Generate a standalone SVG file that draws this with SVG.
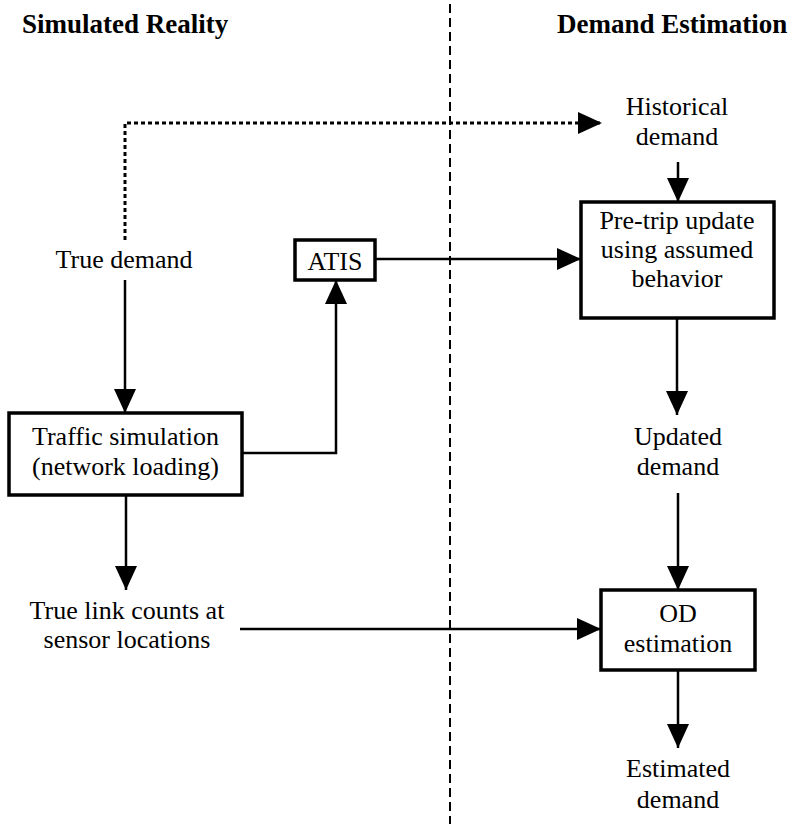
<svg xmlns="http://www.w3.org/2000/svg" width="794" height="824" viewBox="0 0 794 824">
<style>
text{font-family:'Liberation Serif',Tinos,'Times New Roman','Nimbus Roman','DejaVu Serif',serif;font-size:26px;fill:#000;text-anchor:middle}
.title{font-weight:bold;font-size:27px;text-anchor:start}
.box{fill:#fff;stroke:#000;stroke-width:3.5}
.c{fill:none;stroke:#000;stroke-width:2.5}
.dot{fill:none;stroke:#000;stroke-width:3;stroke-dasharray:4 3}
.div{fill:none;stroke:#000;stroke-width:2;stroke-dasharray:9 5}
</style>
<defs>
<marker id="ah" markerUnits="userSpaceOnUse" markerWidth="24" markerHeight="22" viewBox="0 0 24 22" refX="24" refY="11" orient="auto">
<path d="M0,0 L24,11 L0,22 z" fill="#000"/>
</marker>
</defs>
<rect width="794" height="824" fill="#fff"/>
<g font-family="Liberation Serif, serif">
<text class="title" x="22" y="33">Simulated Reality</text>
<text class="title" x="557" y="33">Demand Estimation</text>
</g>
<path class="div" d="M450,4 V824"/>
<g id="connectors">
<path class="dot" d="M125,240 V123 H602" marker-end="url(#ah)"/>
<path class="c" d="M125,280 V413" marker-end="url(#ah)"/>
<path class="c" d="M242,453 H336 V280" marker-end="url(#ah)"/>
<path class="c" d="M375,259 H581" marker-end="url(#ah)"/>
<path class="c" d="M678,162 V202" marker-end="url(#ah)"/>
<path class="c" d="M677,318 V415" marker-end="url(#ah)"/>
<path class="c" d="M678,493 V590" marker-end="url(#ah)"/>
<path class="c" d="M240,629 H601" marker-end="url(#ah)"/>
<path class="c" d="M678,670 V748" marker-end="url(#ah)"/>
<path class="c" d="M126,495 V590" marker-end="url(#ah)"/>
</g>
<g id="true-demand"><text x="124" y="268">True demand</text></g>
<g id="atis"><rect class="box" x="295" y="240" width="80" height="40"/><text x="335" y="270">ATIS</text></g>
<g id="traffic-sim"><rect class="box" x="9" y="413" width="233" height="82"/><text x="125.5" y="445">Traffic simulation</text><text x="125.5" y="475">(network loading)</text></g>
<g id="link-counts"><text x="127" y="619">True link counts at</text><text x="127" y="648">sensor locations</text></g>
<g id="historical"><text x="677" y="115">Historical</text><text x="677" y="145">demand</text></g>
<g id="pretrip"><rect class="box" x="581" y="202" width="193" height="116"/><text x="677" y="229">Pre-trip update</text><text x="677" y="258">using assumed</text><text x="677" y="287">behavior</text></g>
<g id="updated"><text x="678" y="445">Updated</text><text x="678" y="475">demand</text></g>
<g id="od"><rect class="box" x="601" y="590" width="154" height="80"/><text x="678" y="622">OD</text><text x="678" y="652">estimation</text></g>
<g id="estimated"><text x="678" y="777">Estimated</text><text x="678" y="808">demand</text></g>
</svg>
